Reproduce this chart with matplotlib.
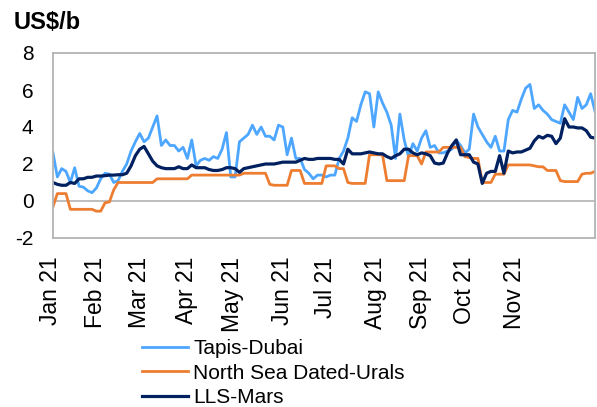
import numpy as np
import matplotlib
matplotlib.use("Agg")
import matplotlib.pyplot as plt
from matplotlib.transforms import ScaledTranslation

plt.rcParams['font.family'] = ['Liberation Sans', 'DejaVu Sans']
plt.rcParams['axes.unicode_minus'] = False

# spreads in US$/b, one reading every second business day, Jan 21 onwards
tapis_dubai = [2.6, 1.3, 1.75, 1.6, 1.0, 1.8, 0.8, 0.75, 0.55, 0.45,
               0.7, 1.2, 1.5, 1.45, 1.0, 1.1, 1.6, 2.0, 2.7, 3.2,
               3.65, 3.2, 3.4, 4.0, 4.6, 3.0, 3.3, 3.0, 3.0, 2.7,
               2.9, 2.3, 3.3, 1.9, 2.2, 2.3, 2.2, 2.4, 2.3, 2.8,
               3.7, 1.3, 1.3, 3.2, 3.4, 3.6, 4.1, 3.6, 4.0, 3.5,
               3.5, 3.3, 4.1, 4.0, 2.5, 3.4, 2.3, 2.3, 1.7, 1.5,
               1.2, 1.4, 1.4, 1.3, 1.4, 1.4, 2.3, 2.7, 3.4, 4.5,
               4.3, 5.2, 5.9, 5.8, 4.0, 5.9, 5.3, 4.8, 4.1, 2.3,
               4.7, 3.3, 2.4, 3.1, 2.7, 3.4, 3.8, 2.9, 3.0, 2.6,
               2.6, 2.7, 2.8, 3.3, 3.0, 2.6, 2.8, 4.7, 4.0, 3.6,
               3.2, 2.9, 3.5, 2.7, 2.7, 4.4, 4.9, 4.8, 5.5, 6.1,
               6.3, 5.0, 5.2, 4.9, 4.7, 4.4, 4.3, 4.2, 5.2, 4.8,
               4.4, 5.6, 5.0, 5.2, 5.8, 4.85]

dated_urals = [-0.3, 0.4, 0.4, 0.4, -0.45, -0.45, -0.45, -0.45, -0.45, -0.45,
               -0.55, -0.55, -0.1, -0.05, 0.6, 1.0, 1.0, 1.0, 1.0, 1.0,
               1.0, 1.0, 1.0, 1.0, 1.2, 1.2, 1.2, 1.2, 1.2, 1.2,
               1.2, 1.2, 1.4, 1.4, 1.4, 1.4, 1.4, 1.4, 1.4, 1.4,
               1.4, 1.4, 1.4, 1.4, 1.5, 1.5, 1.5, 1.5, 1.5, 1.5,
               0.9, 0.85, 0.85, 0.85, 0.85, 1.65, 1.65, 1.65, 0.95, 0.95,
               0.95, 0.95, 0.95, 1.9, 1.9, 1.9, 1.75, 1.75, 1.0, 0.95,
               0.95, 0.95, 0.95, 2.5, 2.5, 2.5, 2.5, 1.1, 1.1, 1.1,
               1.1, 1.1, 2.45, 2.45, 2.45, 2.0, 2.65, 2.65, 2.65, 2.65,
               2.9, 2.9, 2.9, 2.9, 2.9, 2.4, 2.35, 2.3, 2.3, 1.0,
               1.0, 1.0, 1.45, 1.45, 1.45, 1.95, 1.95, 1.95, 1.95, 1.95,
               1.95, 1.9, 1.85, 1.85, 1.65, 1.65, 1.65, 1.1, 1.05, 1.05,
               1.05, 1.05, 1.45, 1.5, 1.5, 1.6]

lls_mars = [1.0, 0.9, 0.85, 0.85, 1.0, 0.95, 1.2, 1.2, 1.28, 1.28,
            1.35, 1.35, 1.37, 1.4, 1.4, 1.42, 1.42, 1.5, 1.9, 2.45,
            2.8, 2.95, 2.55, 2.15, 1.9, 1.8, 1.75, 1.75, 1.75, 1.85,
            1.75, 1.75, 1.95, 1.8, 1.8, 1.8, 1.7, 1.65, 1.65, 1.7,
            1.8, 1.8, 1.75, 1.55, 1.75, 1.8, 1.85, 1.9, 1.95, 2.0,
            2.0, 2.0, 2.05, 2.1, 2.1, 2.1, 2.1, 2.2, 2.3, 2.25,
            2.25, 2.3, 2.3, 2.3, 2.3, 2.25, 2.25, 2.0, 2.8, 2.55,
            2.55, 2.55, 2.6, 2.65, 2.6, 2.55, 2.55, 2.4, 2.3, 2.45,
            2.55, 2.8, 2.8, 2.6, 2.5, 2.6, 2.55, 2.45, 2.05, 2.0,
            2.05, 2.6, 3.0, 3.3, 2.5, 2.5, 2.5, 2.1, 2.0, 0.95,
            1.5, 1.6, 1.6, 2.45, 1.5, 2.7, 2.6, 2.65, 2.65, 2.75,
            2.85, 3.25, 3.5, 3.4, 3.55, 3.5, 3.1, 3.4, 4.45, 4.0,
            4.0, 3.95, 3.95, 3.8, 3.45, 3.4]

month_labels = ['Jan 21', 'Feb 21', 'Mar 21', 'Apr 21', 'May 21', 'Jun 21',
                'Jul 21', 'Aug 21', 'Sep 21', 'Oct 21', 'Nov 21']
month_pos = [0, 10.5, 20.5, 31.5, 42, 53.5, 63.5, 75, 85.5, 95.5, 107]

x = np.arange(len(tapis_dubai))

fig = plt.figure(figsize=(5.97, 4.07), dpi=100)
ax = fig.add_axes([53/597, 1 - 238/407, 542/597, 185/407])

ax.plot(x, tapis_dubai, color='#4da6ff', lw=2.0, label='Tapis-Dubai')
ax.plot(x, dated_urals, color='#ed7d31', lw=2.0, label='North Sea Dated-Urals')
ax.plot(x, lls_mars, color='#002060', lw=2.3, label='LLS-Mars')
ax.axhline(0, color='#b3b3b3', lw=1.2, zorder=0)

ax.set_xlim(0, len(x) - 1)
ax.set_ylim(-2, 8)
ax.set_yticks([-2, 0, 2, 4, 6, 8])
ax.set_xticks(month_pos)
ax.set_xticklabels(month_labels, rotation=90)
ax.tick_params(axis='y', length=0, pad=14, labelsize=15)
ax.tick_params(axis='x', length=0, pad=13.5, labelsize=16.5)
shift = ScaledTranslation(-2/72, 0, fig.dpi_scale_trans)
for lab in ax.get_xticklabels():
    lab.set_transform(lab.get_transform() + shift)

for s in ax.spines.values():
    s.set_color('#b3b3b3')
    s.set_linewidth(1.3)

fig.text(14/597, 1 - 29/407, 'US$/b', fontsize=17, fontweight='bold', va='baseline')

fig.legend(loc='upper left', bbox_to_anchor=(142/597, 1 - 339/407), frameon=False,
           fontsize=15, handlelength=2.2, handletextpad=0.25, labelspacing=0.27,
           borderpad=0, borderaxespad=0)

fig.savefig('out.png', dpi=100)
